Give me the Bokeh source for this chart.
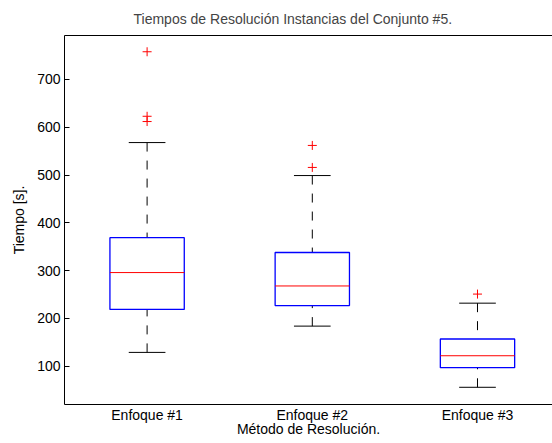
from bokeh.plotting import figure
from bokeh.models import Range1d, FixedTicker, LinearAxis
from bokeh.embed import file_html
from bokeh.resources import INLINE

categories = ["Enfoque #1", "Enfoque #2", "Enfoque #3"]
q1 = [219, 227, 97]
medians = [296, 268, 122]
q3 = [369, 338, 157]
lower_whisker = [129, 184, 56]
upper_whisker = [568, 499, 232]
outliers = [[758, 623, 612], [562, 516], [251]]
y_ticks = [100, 200, 300, 400, 500, 600, 700]

FONT = "Liberation Sans"
FS = "14px"

xs = [i + 1 for i in range(len(categories))]
half_box = 0.225
half_cap = 0.111

p = figure(width=552, height=443, output_backend="svg", toolbar_location=None,
           x_range=Range1d(0.5, 3.454), y_range=Range1d(20, 792),
           min_border_left=64, min_border_top=34, min_border_right=0, min_border_bottom=39)
p.title.text = "Tiempos de Resolución Instancias del Conjunto #5."
p.title.text_font = FONT
p.title.text_font_size = FS
p.title.text_font_style = "normal"
p.title.align = "left"
p.title.offset = 69
p.title.standoff = 16.5
p.outline_line_color = None
p.grid.visible = False
p.background_fill_color = "white"
p.border_fill_color = "white"

# whiskers
p.segment(x0=xs, y0=upper_whisker, x1=xs, y1=q3, line_color="black", line_width=1, line_dash="9 9")
p.segment(x0=xs, y0=lower_whisker, x1=xs, y1=q1, line_color="black", line_width=1, line_dash="9 9")
# caps
p.segment(x0=[x - half_cap for x in xs], y0=upper_whisker, x1=[x + half_cap for x in xs], y1=upper_whisker,
          line_color="black", line_width=1)
p.segment(x0=[x - half_cap for x in xs], y0=lower_whisker, x1=[x + half_cap for x in xs], y1=lower_whisker,
          line_color="black", line_width=1)
# boxes
p.quad(left=[x - half_box for x in xs], right=[x + half_box for x in xs], bottom=q1, top=q3,
       fill_color=None, line_color="#0000ff", line_width=1.3)
# medians
p.segment(x0=[x - half_box for x in xs], y0=medians, x1=[x + half_box for x in xs], y1=medians,
          line_color="#ff0000", line_width=1)
# outliers
ox = [xs[i] for i, o in enumerate(outliers) for _ in o]
oy = [v for o in outliers for v in o]
p.scatter(x=ox, y=oy, marker="cross", size=9, line_color="#ff0000", line_width=1)

# axes
xa = p.xaxis[0]
xa.ticker = FixedTicker(ticks=xs)
xa.major_label_overrides = {x: c for x, c in zip(xs, categories)}
xa.major_tick_in = 0
xa.major_tick_out = 0
xa.minor_tick_line_color = None
xa.axis_label = "Método de Resolución."
xa.major_label_standoff = 2
xa.axis_label_standoff = -5

ya = p.yaxis[0]
ya.ticker = FixedTicker(ticks=y_ticks)
ya.major_tick_in = 5
ya.major_tick_out = 0
ya.minor_tick_line_color = None
ya.axis_label = "Tiempo [s]."
ya.major_label_standoff = 4
ya.axis_label_standoff = 7

for ax in (xa, ya):
    ax.axis_line_color = "black"
    ax.axis_line_width = 1
    ax.major_tick_line_color = "black"
    ax.major_label_text_font = FONT
    ax.major_label_text_font_size = FS
    ax.major_label_text_color = "black"
    ax.axis_label_text_font = FONT
    ax.axis_label_text_font_size = FS
    ax.axis_label_text_font_style = "normal"
    ax.axis_label_text_color = "black"

top = LinearAxis(ticker=FixedTicker(ticks=[]), major_label_text_font_size="0px",
                 major_tick_in=0, major_tick_out=0, minor_tick_line_color=None,
                 axis_line_color="black", axis_line_width=1)
p.add_layout(top, "above")

open("out.html", "w").write(file_html(p, INLINE))
